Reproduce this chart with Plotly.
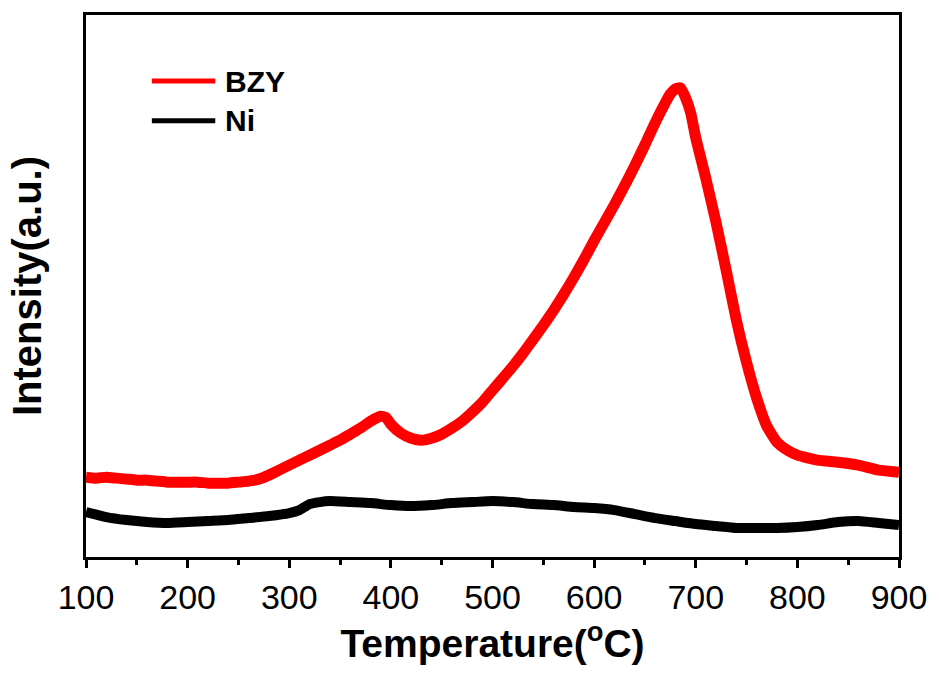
import plotly.graph_objects as go

# ---- data ----
bzy_temp = [100, 110, 120, 130, 140, 150, 160, 170, 180, 190, 200, 210, 220, 230, 240,
            250, 260, 270, 280, 290, 300, 310, 320, 330, 340, 350, 360, 370, 380, 390,
            395, 400, 410, 420, 430, 440, 450, 460, 470, 480, 490, 500, 510, 520, 530,
            540, 550, 560, 570, 580, 590, 600, 610, 620, 630, 640, 650, 660, 670, 675,
            680, 685, 690, 695, 700, 710, 720, 730, 740, 750, 760, 770, 780, 790, 800,
            820, 840, 860, 880, 900]
bzy_int = [80, 79, 80, 79, 78, 77, 77, 76, 75, 75, 75, 75, 74, 74, 74,
           75, 76, 78, 82, 87, 92, 97, 102, 107, 112, 117, 123, 129, 136, 141,
           140, 133, 124, 119, 117, 119, 123, 129, 136, 145, 155, 167, 179, 191, 204,
           218, 232, 247, 263, 280, 298, 317, 335, 353, 372, 392, 413, 435, 455, 464,
           469, 470, 460, 445, 420, 379, 335, 287, 237, 195, 159, 131, 115, 107, 102,
           97, 95, 92, 87, 85]

ni_temp = [100, 120, 140, 160, 180, 200, 220, 240, 260, 280, 300, 310, 320, 330, 340,
           360, 380, 400, 420, 440, 460, 480, 500, 520, 540, 560, 580, 600, 620, 640,
           660, 680, 700, 720, 740, 760, 780, 800, 820, 840, 860, 880, 900]
ni_int = [45, 40, 37, 35, 34, 35, 36, 37, 39, 41, 44, 47, 53, 55, 56,
          55, 54, 52, 51, 52, 54, 55, 56, 55, 53, 52, 50, 49, 47, 43,
          39, 36, 33, 31, 29, 29, 29, 30, 32, 35, 36, 34, 32]

series_names = ["BZY", "Ni"]
series_colors = ["#ff0000", "#000000"]

x_ticks = [100, 200, 300, 400, 500, 600, 700, 800, 900]
x_tick_labels = ["100", "200", "300", "400", "500", "600", "700", "800", "900"]

FONT = "Arial, 'Liberation Sans', Helvetica, sans-serif"

fig = go.Figure()
fig.add_trace(go.Scatter(x=bzy_temp, y=bzy_int, mode="lines", name=series_names[0],
                         line=dict(color=series_colors[0], width=11, shape="spline", smoothing=0.5),
                         showlegend=False))
fig.add_trace(go.Scatter(x=ni_temp, y=ni_int, mode="lines", name=series_names[1],
                         line=dict(color=series_colors[1], width=10, shape="spline", smoothing=0.5),
                         showlegend=False))

# custom legend (line samples + bold labels)
leg_y = [0.878, 0.805]
for name, col, yy in zip(series_names, series_colors, leg_y):
    fig.add_shape(type="line", xref="paper", yref="paper", x0=0.081, x1=0.159, y0=yy, y1=yy,
                  line=dict(color=col, width=5))
    fig.add_annotation(xref="paper", yref="paper", x=0.168, y=yy, text="<b>%s</b>" % name,
                       showarrow=False, xanchor="left", yanchor="middle",
                       font=dict(family=FONT, size=30, color="#000000"))

fig.update_layout(
    width=939, height=675,
    margin=dict(l=86, r=36, t=14, b=118),
    paper_bgcolor="white", plot_bgcolor="white",
    font=dict(family=FONT, color="#000000"),
)
fig.update_xaxes(
    range=[100, 900], tickvals=x_ticks, ticktext=x_tick_labels,
    showline=True, linecolor="black", linewidth=2.5, mirror=True,
    ticks="outside", ticklen=8, tickwidth=2.5, tickcolor="black",
    minor=dict(ticks="outside", ticklen=5, tickwidth=2.5, tickcolor="black", dtick=50, showgrid=False),
    showgrid=False, zeroline=False,
    tickfont=dict(family=FONT, size=34, color="black"),
    title=dict(text="<b>Temperature(<sup>o</sup>C)</b>", font=dict(family=FONT, size=39, color="black"),
               standoff=12),
)
fig.update_yaxes(
    range=[0, 543], showticklabels=False, ticks="",
    showline=True, linecolor="black", linewidth=2.5, mirror=True,
    showgrid=False, zeroline=False,
    title=dict(text="<b>Intensity(a.u.)</b>", font=dict(family=FONT, size=40, color="black"),
               standoff=30),
)

fig.write_html("out.html")
